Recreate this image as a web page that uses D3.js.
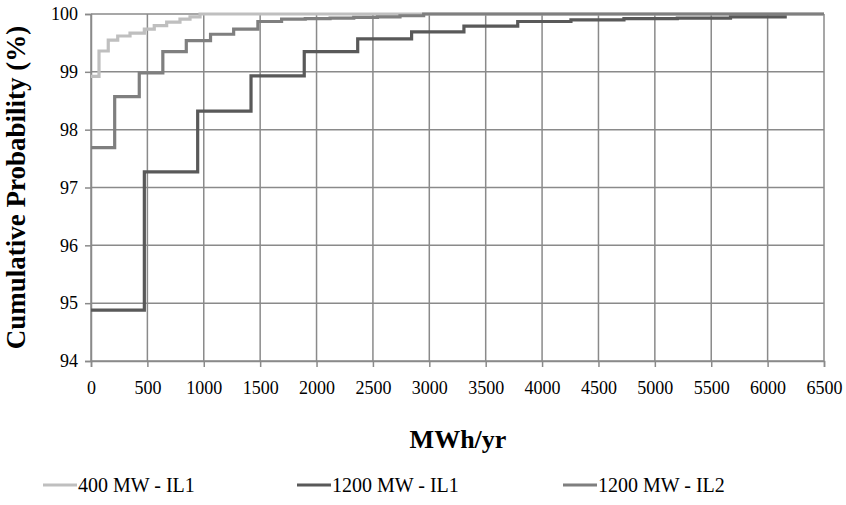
<!DOCTYPE html>
<html>
<head>
<meta charset="utf-8">
<script src="https://cdn.jsdelivr.net/npm/d3@7"></script>
<style>
  html, body { margin: 0; padding: 0; background: #fff; }
  svg { display: block; }
  svg text { fill: #000; }
</style>
</head>
<body>
<svg id="chart" width="846" height="505"></svg>
<script>
// ---- data ----
const seriesNames = ["400 MW - IL1", "1200 MW - IL1", "1200 MW - IL2"];
const s400IL1_x = [0, 71, 153, 237, 346, 473, 561, 671, 789, 878, 967, 6500];
const s400IL1_y = [98.92, 99.36, 99.55, 99.62, 99.67, 99.74, 99.80, 99.86, 99.91, 99.95, 100, 100];
const s1200IL1_x = [0, 473, 946, 1419, 1891, 2365, 2843, 3307, 3784, 4256, 4726, 5199, 5671, 6170];
const s1200IL1_y = [94.88, 97.27, 98.32, 98.93, 99.35, 99.57, 99.69, 99.79, 99.87, 99.90, 99.92, 99.93, 99.95, 99.95];
const s1200IL2_x = [0, 210, 428, 637, 845, 1060, 1265, 1480, 1690, 1900, 2120, 2330, 2540, 2740, 2950, 6500];
const s1200IL2_y = [97.69, 98.57, 98.98, 99.35, 99.54, 99.65, 99.74, 99.87, 99.91, 99.92, 99.93, 99.94, 99.95, 99.97, 100, 100];
const xTicks = [0, 500, 1000, 1500, 2000, 2500, 3000, 3500, 4000, 4500, 5000, 5500, 6000, 6500];
const yTicks = [94, 95, 96, 97, 98, 99, 100];
const xTitle = "MWh/yr";
const yTitle = "Cumulative Probability (%)";
const colors = ["#bfbfbf", "#595959", "#7f7f7f"];

// ---- layout ----
const FONT = "Liberation Serif, Tinos, Times New Roman, Times, Noto Serif, DejaVu Serif, serif";
const svg = d3.select("#chart");
const L = 91, R = 824, T = 14, B = 361;
const x = d3.scaleLinear().domain([0, 6500]).range([L, R]);
const y = d3.scaleLinear().domain([94, 100]).range([B, T]);
const gridColor = "#8a8a8a";

// gridlines
svg.append("g").selectAll("line.h").data(yTicks).join("line")
  .attr("x1", L).attr("x2", R)
  .attr("y1", d => y(d)).attr("y2", d => y(d))
  .attr("stroke", gridColor).attr("stroke-width", 1.5);
svg.append("g").selectAll("line.v").data(xTicks).join("line")
  .attr("y1", T).attr("y2", B)
  .attr("x1", d => x(d)).attr("x2", d => x(d))
  .attr("stroke", gridColor).attr("stroke-width", 1.5);

// axes
const xAxis = d3.axisBottom(x).tickValues(xTicks).tickSize(6).tickPadding(14).tickFormat(d3.format("d"));
const yAxis = d3.axisLeft(y).tickValues(yTicks).tickSize(6).tickPadding(7).tickFormat(d3.format("d"));
const gx = svg.append("g").attr("transform", `translate(0,${B})`).call(xAxis);
const gy = svg.append("g").attr("transform", `translate(${L},0)`).call(yAxis);
[gx, gy].forEach(g => {
  g.attr("font-family", null).attr("font-size", null);
  g.select(".domain").attr("stroke", gridColor).attr("stroke-width", 1.5);
  g.selectAll(".tick line").attr("stroke", gridColor).attr("stroke-width", 1.5);
  g.selectAll(".tick text").style("font-family", FONT).style("font-size", "18px").attr("fill", "#000");
});

// series
const allSeries = [
  { name: seriesNames[0], xs: s400IL1_x, ys: s400IL1_y, color: colors[0] },
  { name: seriesNames[1], xs: s1200IL1_x, ys: s1200IL1_y, color: colors[1] },
  { name: seriesNames[2], xs: s1200IL2_x, ys: s1200IL2_y, color: colors[2] }
];
const line = d3.line().x(d => x(d[0])).y(d => y(d[1])).curve(d3.curveStepAfter);
allSeries.forEach(s => {
  const pts = s.xs.map((v, i) => [v, s.ys[i]]);
  svg.append("path").datum(pts)
    .attr("d", line).attr("fill", "none")
    .attr("stroke", s.color).attr("stroke-width", 3.2)
    .attr("stroke-linejoin", "miter");
});

// titles
svg.append("text").attr("x", 458).attr("y", 448)
  .attr("text-anchor", "middle").style("font-family", FONT).style("font-size", "26px").style("font-weight", "bold")
  .text(xTitle);
svg.append("text").attr("transform", `translate(25,${(T + B) / 2}) rotate(-90)`)
  .attr("text-anchor", "middle").style("font-family", FONT).style("font-size", "27px").style("font-weight", "bold")
  .text(yTitle);

// legend
const legendX = [43, 297, 563];
const lg = svg.append("g");
allSeries.forEach((s, i) => {
  const g = lg.append("g").attr("transform", `translate(${legendX[i]},485)`);
  g.append("line").attr("x1", 0).attr("x2", 34).attr("y1", 0).attr("y2", 0)
    .attr("stroke", s.color).attr("stroke-width", 3.2);
  g.append("text").attr("x", 35).attr("y", 7).style("font-family", FONT).style("font-size", "20px").text(s.name);
});
</script>
</body>
</html>
